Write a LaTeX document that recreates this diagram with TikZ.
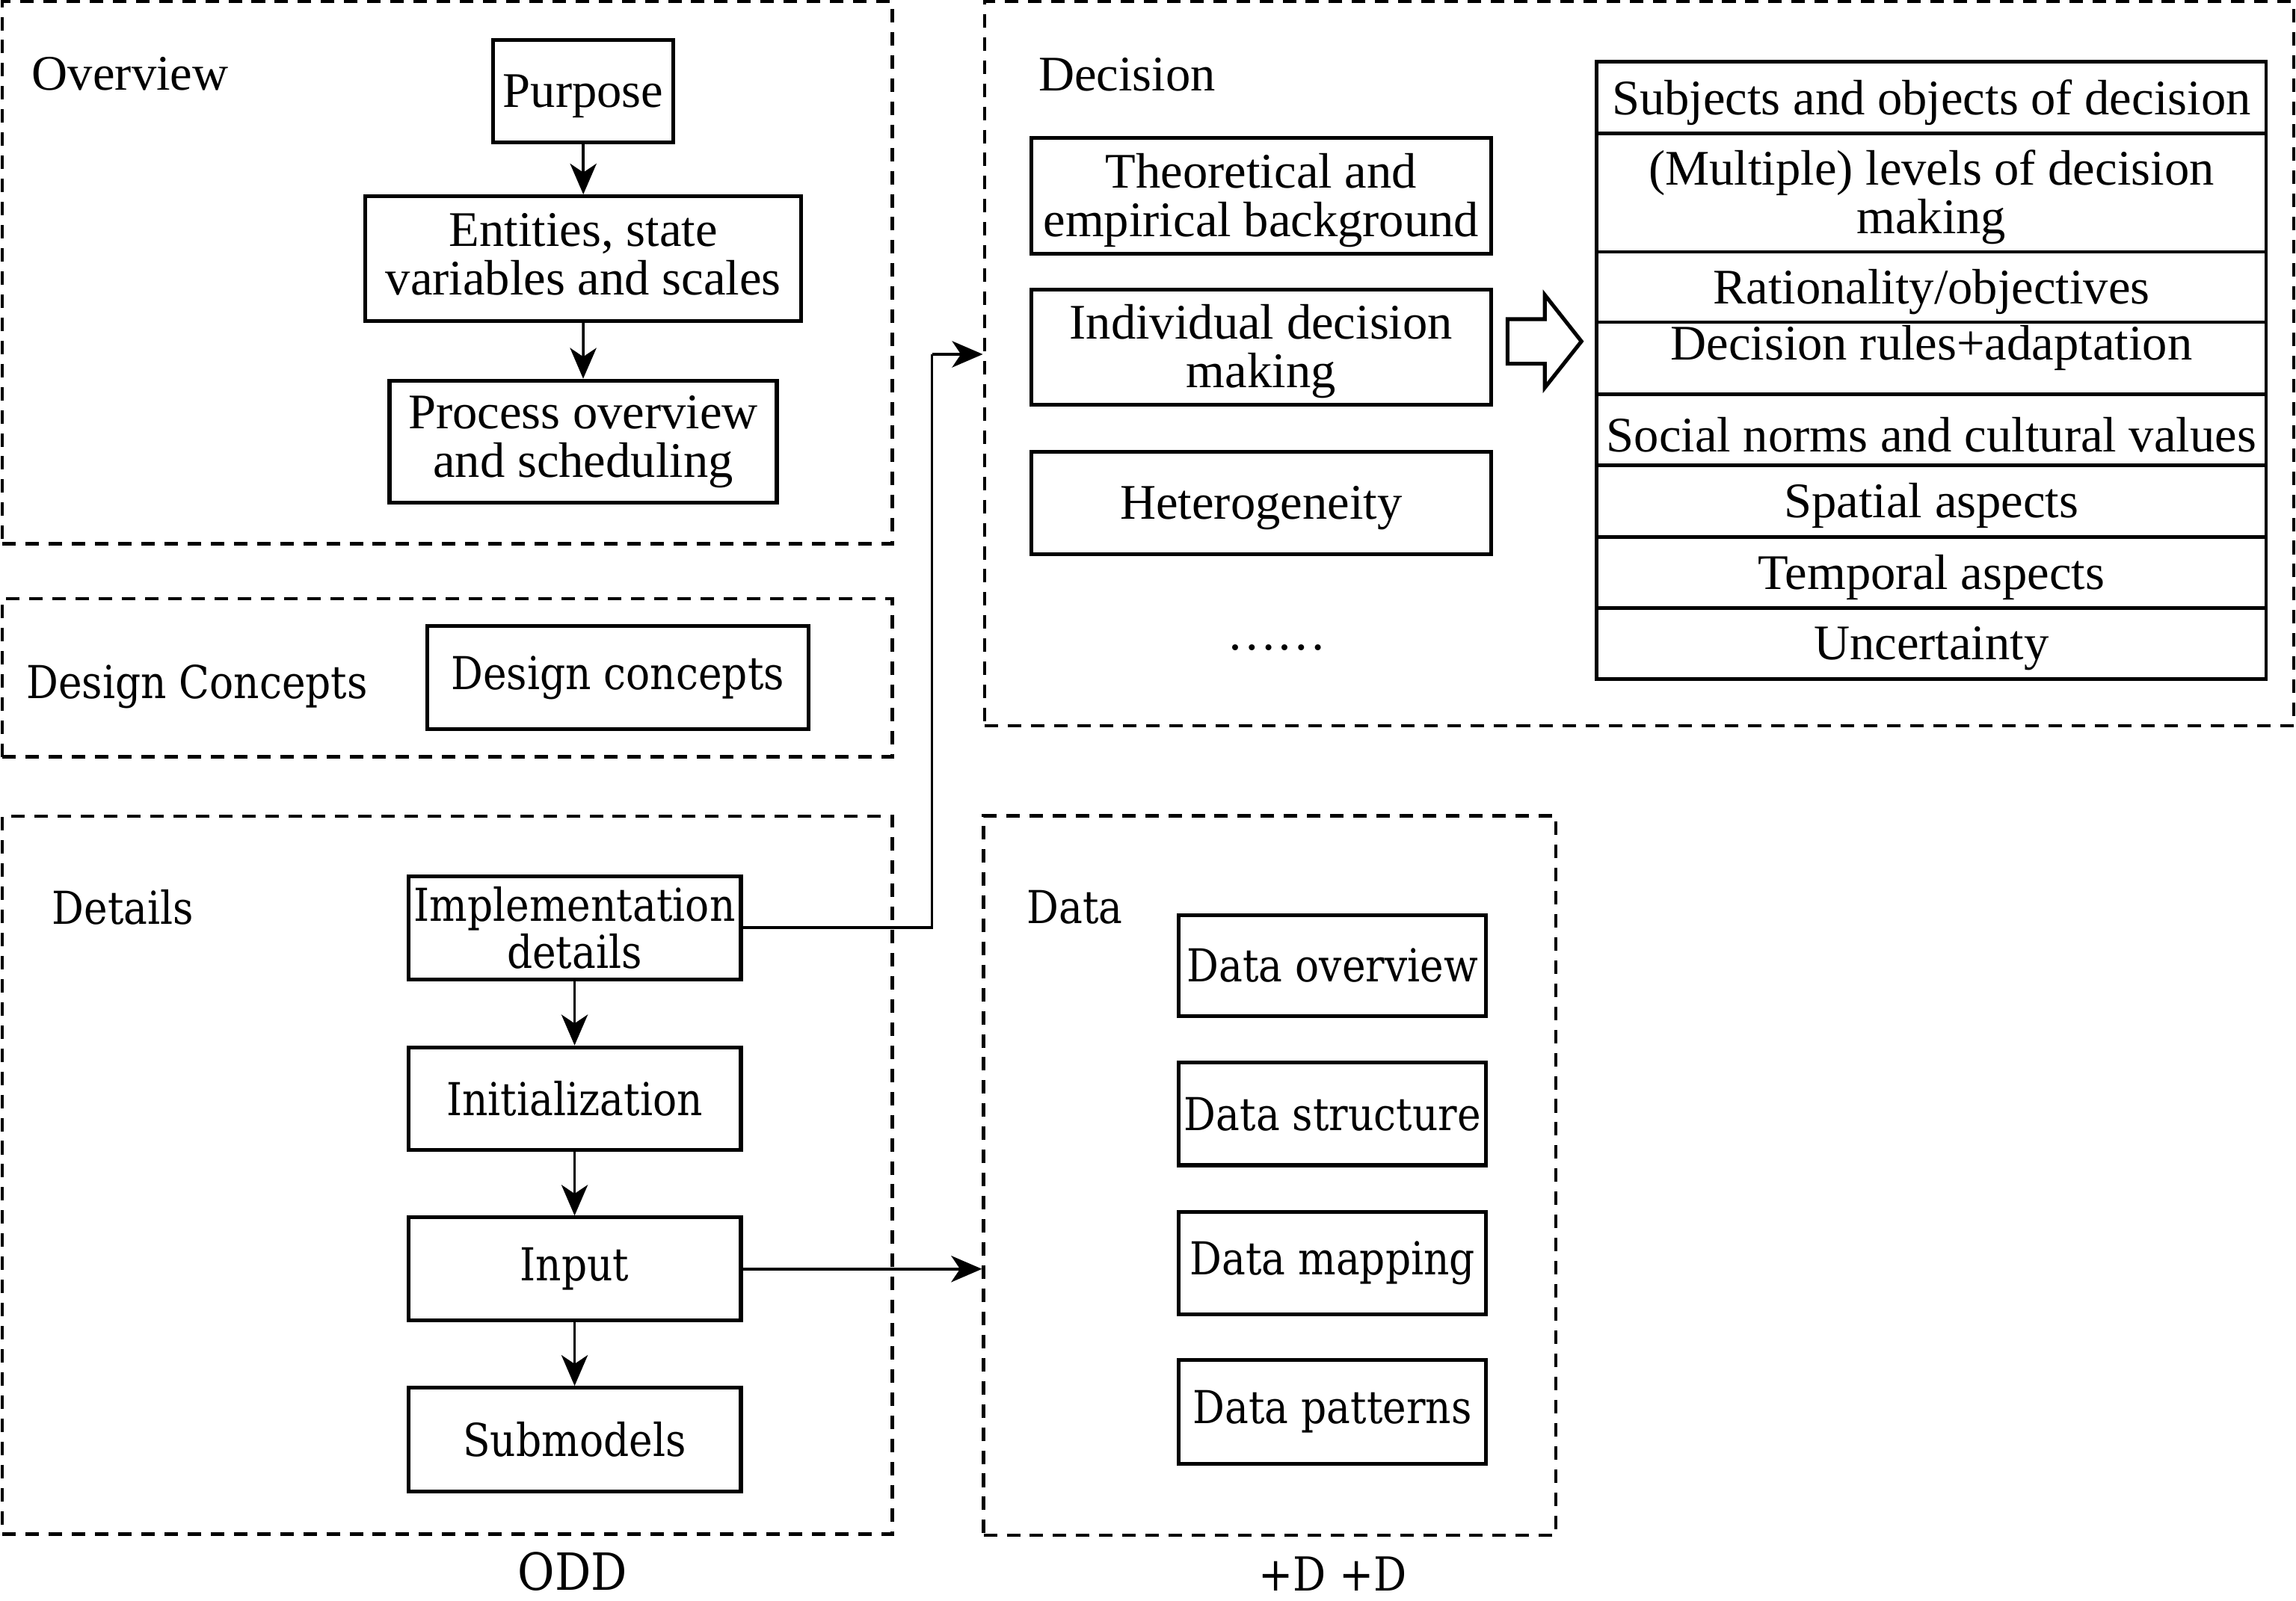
\documentclass[tikz,border=0pt]{standalone}
\usepackage{fontspec}
\setmainfont{Liberation Serif}
\newfontfamily\widefont[FakeStretch=0.88]{DejaVu Serif}
\usetikzlibrary{arrows.meta}
\tikzset{
  tfont/.style={font=\fontsize{17}{16.6}\selectfont},
  wfont/.style={font=\widefont\fontsize{15.5}{16.2}\selectfont},
  tl/.style={tfont, align=center, inner sep=0pt, yshift=-1.6pt},
  wl/.style={wfont, align=center, inner sep=0pt},
  box/.style={draw, line width=1.3pt, inner sep=0pt},
  row/.style={draw, line width=1.2pt, inner sep=0pt},
  grp/.style={draw, line width=1.1pt, dash pattern=on 4.6pt off 3.3pt, inner sep=0pt},
  conn/.style={line width=0.9pt, -{Stealth[length=10.5pt, width=9pt, inset=3pt]}},
  lbl/.style={inner sep=0pt, anchor=base west},
}
% #1 box style, #2 text style, #3 name, #4 x1, #5 y1, #6 x2, #7 y2, #8 text
\newcommand\mybox[8]{%
  \pgfmathsetmacro\bw{(#6-#4)*0.5}%
  \pgfmathsetmacro\bh{(#7-#5)*0.5}%
  \pgfmathsetmacro\bx{(#4+#6)/2}%
  \pgfmathsetmacro\by{(#5+#7)/2}%
  \node[#1, minimum width=\bw pt, minimum height=\bh pt,
        label={[#2]center:{#8}}] (#3) at (\bx,\by) {};}
\begin{document}
\begin{tikzpicture}[x=0.5pt, y=-0.5pt]
\useasboundingbox (0,0) rectangle (1568,1093.67);

% ---------- Overview ----------
\mybox{grp}{}{overview}{1.7}{1.2}{609.3}{371.5}{}
\node[lbl, tfont] (overviewlbl) at (21.5,61.5) {Overview};
\mybox{box}{tl}{purpose}{336.7}{27.5}{460}{97.4}{Purpose}
\mybox{box}{tl, yshift=3pt}{entities}{249.4}{134.1}{547.3}{219.3}{Entities, state\\variables and scales}
\mybox{box}{tl, yshift=1.5pt}{process}{266}{260}{530.5}{343.3}{Process overview\\and scheduling}
\draw[conn] (purpose.south) -- (entities.north);
\draw[conn] (entities.south) -- (process.north);

% ---------- Design concepts ----------
\mybox{grp}{}{design}{1.7}{409}{609.3}{517}{}
\node[lbl, wfont] (designlbl) at (17.6,476.9) {Design Concepts};
\mybox{box}{wl}{dc}{291.7}{427.6}{552}{498.2}{Design concepts}

% ---------- Details ----------
\mybox{grp}{}{details}{1.7}{557.5}{609.3}{1048}{}
\node[lbl, wfont] (detailslbl) at (35.2,631.5) {Details};
\mybox{box}{wl}{impl}{278.8}{598.5}{506}{669}{Implementation\\details}
\mybox{box}{wl}{init}{278.8}{715.4}{506}{785.6}{Initialization}
\mybox{box}{wl}{input}{278.8}{831.7}{506}{902}{Input}
\mybox{box}{wl}{submodels}{278.8}{948}{506}{1018.8}{Submodels}
\draw[conn] (impl.south) -- (init.north);
\draw[conn] (init.south) -- (input.north);
\draw[conn] (input.south) -- (submodels.north);
\node[inner sep=0pt, anchor=base, font=\widefont\fontsize{17.5}{18}\selectfont] (odd) at (391,1086) {ODD};

% ---------- Decision ----------
\mybox{grp}{}{decision}{672.3}{1.2}{1566.3}{495.8}{}
\node[lbl, tfont] (decisionlbl) at (708.8,62) {Decision};
\mybox{box}{tl}{theo}{704.2}{94.1}{1018.3}{173.2}{Theoretical and\\empirical background}
\mybox{box}{tl}{indiv}{704.2}{197.8}{1018.3}{276.3}{Individual decision\\making}
\mybox{box}{tl}{hetero}{704.2}{308.5}{1018.3}{378.7}{Heterogeneity}
\node[inner sep=0pt, anchor=base, tfont] (dots) at (872,444) {……};
\draw[line width=1.3pt, line join=miter] (1029.5,218) -- (1055,218) -- (1055,201.5) -- (1080,233.2)
  -- (1055,264.8) -- (1055,248.5) -- (1029.5,248.5) -- cycle;

\mybox{row}{tl}{r1}{1090.5}{42.2}{1547.5}{91}{Subjects and objects of decision}
\mybox{row}{tl}{r2}{1090.5}{91}{1547.5}{172}{(Multiple) levels of decision\\making}
\mybox{row}{tl}{r3}{1090.5}{172}{1547.5}{220}{Rationality/objectives}
\mybox{row}{tl, yshift=5.2pt}{r4}{1090.5}{220}{1547.5}{269.5}{Decision rules+adaptation}
\mybox{row}{tl}{r5}{1090.5}{269.5}{1547.5}{318}{Social norms and cultural values}
\mybox{row}{tl}{r6}{1090.5}{318}{1547.5}{366.8}{Spatial aspects}
\mybox{row}{tl}{r7}{1090.5}{366.8}{1547.5}{415.5}{Temporal aspects}
\mybox{row}{tl}{r8}{1090.5}{415.5}{1547.5}{464}{Uncertainty}

% ---------- Data ----------
\mybox{grp}{}{data}{671.7}{557.3}{1062.5}{1048.6}{}
\node[lbl, wfont] (datalbl) at (701,631) {Data};
\mybox{box}{wl}{dov}{805}{625}{1015}{694}{Data overview}
\mybox{box}{wl}{dst}{805}{726}{1015}{796}{Data structure}
\mybox{box}{wl}{dmap}{805}{827.7}{1015}{897.9}{Data mapping}
\mybox{box}{wl}{dpat}{805}{929}{1015}{1000}{Data patterns}
\node[inner sep=0pt, anchor=base, font=\widefont\fontsize{16}{18}\selectfont] (plusd) at (910,1087) {+D +D};

% ---------- connectors ----------
\coordinate (bend) at (636.5,242);
\draw[line width=0.9pt] (impl.east) -| (bend);
\draw[conn] (bend) -- (bend -| decision.west);
\draw[conn] (input.east) -- (input.east -| data.west);
\end{tikzpicture}
\end{document}
